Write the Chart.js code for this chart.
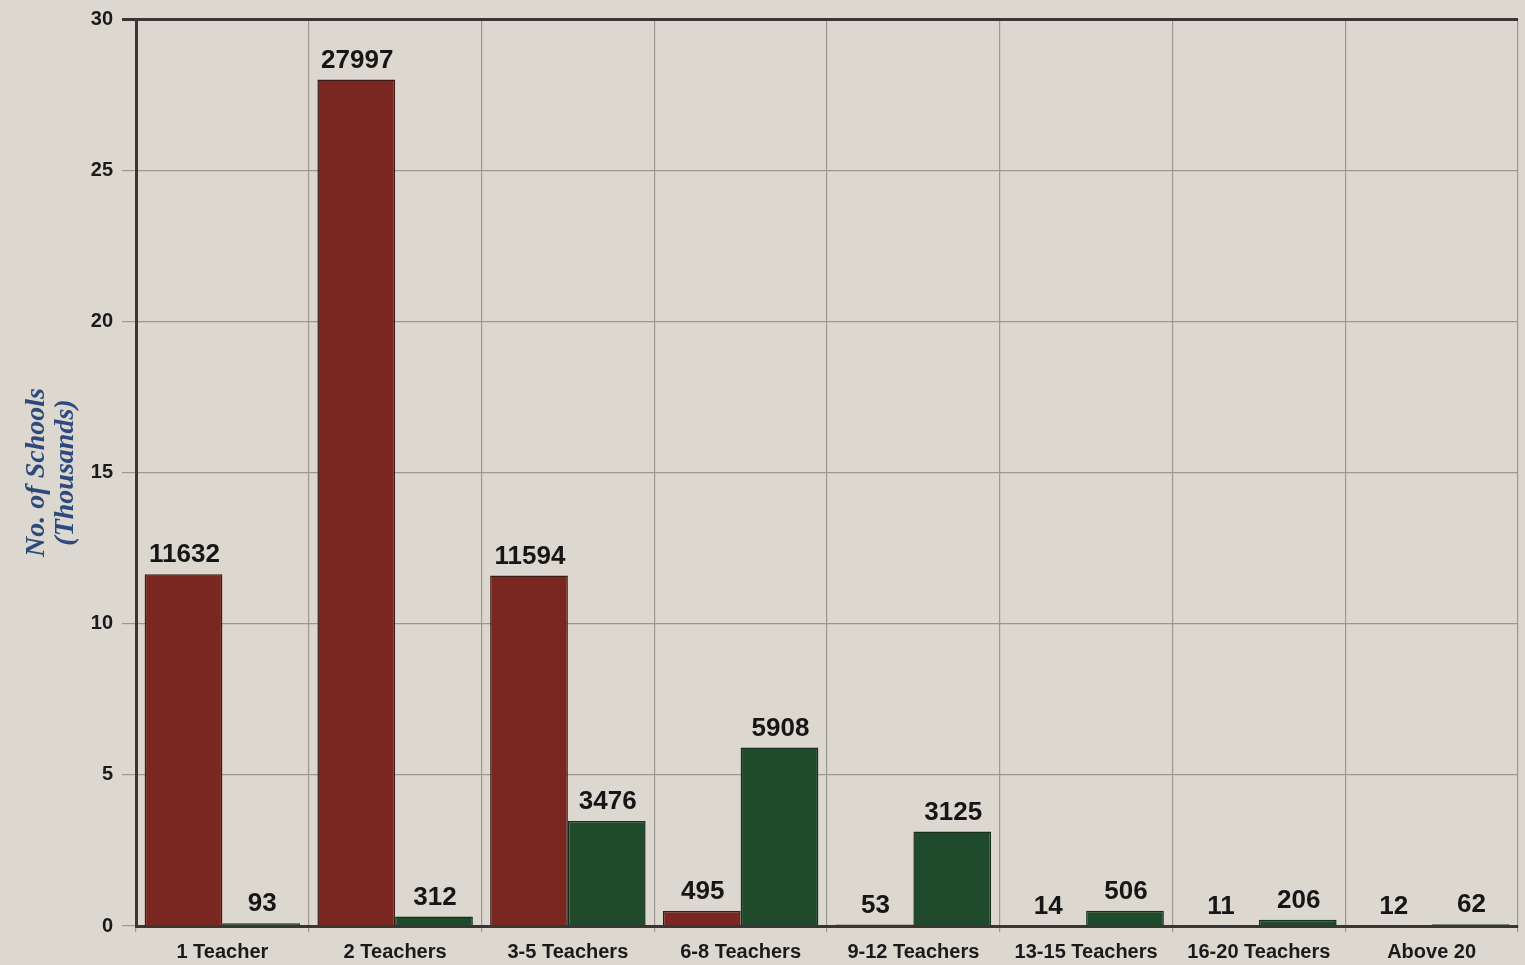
<!DOCTYPE html>
<html><head><meta charset="utf-8">
<script src="https://cdn.jsdelivr.net/npm/chart.js@4"></script>
<style>
html,body{margin:0;padding:0;background:#dcd7cf;}
#wrap{width:1525px;height:965px;position:relative;}
</style></head>
<body><div id="wrap"><canvas id="c" width="1525" height="965"></canvas></div>
<script>
const categories = ["1 Teacher","2 Teachers","3-5 Teachers","6-8 Teachers","9-12 Teachers","13-15 Teachers","16-20 Teachers","Above 20"];
const seriesRed = [11632, 27997, 11594, 495, 53, 14, 11, 12];
const seriesGreen = [93, 312, 3476, 5908, 3125, 506, 206, 62];
const yTicks = [0, 5, 10, 15, 20, 25, 30];
const yTitle = ["No. of Schools", "(Thousands)"];

const labelPlugin = {
  id: 'barLabels',
  afterDatasetsDraw(chart) {
    const ctx = chart.ctx;
    ctx.save();
    ctx.font = 'bold 26px "Liberation Sans", Arial, sans-serif';
    ctx.fillStyle = '#161616';
    ctx.textAlign = 'center';
    ctx.textBaseline = 'bottom';
    chart.data.datasets.forEach((ds, di) => {
      const meta = chart.getDatasetMeta(di);
      meta.data.forEach((el, i) => {
        ctx.fillText(String(ds.raw[i]), el.x + 1, el.y - 6);
      });
    });
    ctx.restore();
  }
};

new Chart(document.getElementById('c'), {
  type: 'bar',
  data: {
    labels: categories,
    datasets: [
      { data: seriesRed.map(v => v / 1000), raw: seriesRed, backgroundColor: '#7a2621', borderColor: '#3b1a16', borderWidth: 1.5, categoryPercentage: 0.9, barPercentage: 1.0 },
      { data: seriesGreen.map(v => v / 1000), raw: seriesGreen, backgroundColor: '#1f4a2b', borderColor: '#17301d', borderWidth: 1.5, categoryPercentage: 0.9, barPercentage: 1.0 }
    ]
  },
  options: {
    responsive: false,
    animation: false,
    layout: { padding: { top: 18, right: 7, left: 22, bottom: 0 } },
    plugins: { legend: { display: false }, tooltip: { enabled: false } },
    scales: {
      x: {
        grid: { offset: true, color: '#9c9791', lineWidth: 1.2, drawTicks: true, tickLength: 6 },
        border: { display: true, color: '#3a3633', width: 3 },
        ticks: { color: '#1a1a1a', font: { family: '"Liberation Sans", Arial, sans-serif', weight: 'bold', size: 20 }, padding: 8, maxRotation: 0 },
        afterFit: s => { s.height = 39; }
      },
      y: {
        min: 0, max: 30,
        afterBuildTicks: s => { s.ticks = yTicks.map(v => ({ value: v })); },
        grid: {
          color: c => (c.tick && c.tick.value === 30) ? '#3a3633' : '#9c9791',
          lineWidth: c => (c.tick && c.tick.value === 30) ? 3 : 1.2,
          tickLength: 14, drawTicks: true
        },
        border: { display: true, color: '#3a3633', width: 3 },
        ticks: { color: '#1a1a1a', font: { family: '"Liberation Sans", Arial, sans-serif', weight: 'bold', size: 20, lineHeight: 1.0 }, padding: 9 },
        title: { display: true, text: yTitle, color: '#2c4a7c', font: { family: '"Liberation Serif", "Times New Roman", serif', style: 'italic', weight: 'bold', size: 28, lineHeight: 1.05 }, padding: { top: 0, bottom: 0 } },
        afterFit: s => { s.width = 114; }
      }
    }
  },
  plugins: [labelPlugin]
});
</script></body></html>
